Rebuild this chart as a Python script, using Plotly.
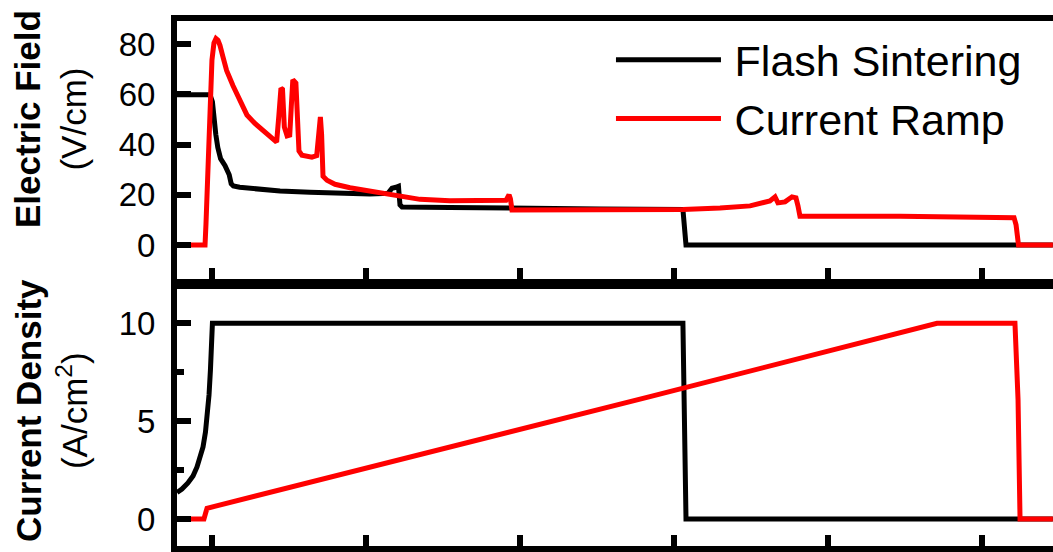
import plotly.graph_objects as go

# ---- data: time (s), electric field (V/cm), current density (A/cm^2) ----
flash_t_field = [-22.7, -1.3, 0.3, 1.4, 2.5, 3.8, 5.6, 8.5, 11.2, 12.5, 13.9, 18.0,
                 25.0, 35.0, 44.2, 63.6, 83.1, 102.6, 114.3, 116.9, 119.5, 121.1,
                 122.1, 123.4, 154.5, 193.5, 252.0, 305.8, 306.5, 307.8, 546.0]
flash_field = [59.8, 59.8, 57.0, 49.5, 44.0, 38.8, 34.4, 31.6, 28.0, 24.4, 23.5, 23.0,
               22.6, 22.0, 21.5, 21.0, 20.5, 20.3, 20.6, 22.6, 23.0, 23.4,
               16.0, 15.2, 15.0, 14.6, 14.4, 14.2, 10.0, 0.0, 0.0]

ramp_t_field = [-22.7, -4.5, -3.9, -2.6, -1.3, 0.0, 1.3, 2.6, 3.9, 5.2, 7.1, 9.5,
                13.6, 18.2, 22.7, 27.9, 32.5, 37.7, 40.5, 42.0, 43.5, 44.8, 45.8,
                47.0, 48.8, 50.5, 51.5, 52.5, 54.5, 55.3, 56.5, 58.4, 64.9, 68.0,
                69.2, 70.4, 71.2, 72.1, 74.7, 79.9, 89.6, 105.8, 120.1, 135.1,
                154.5, 174.0, 190.9, 192.9, 193.8, 194.8, 230.5, 264.9, 305.8,
                329.9, 349.4, 362.3, 365.6, 367.5, 372.1, 376.6, 379.2, 380.5,
                381.8, 446.8, 500.6, 511.7, 520.8, 522.1, 523.7, 546.0]
ramp_field = [0.0, 0.0, 8.1, 29.9, 57.8, 73.7, 80.5, 82.2, 81.5, 79.5, 75.0, 69.5,
              63.5, 57.0, 51.8, 48.4, 45.8, 43.2, 41.5, 41.0, 52.0, 62.5, 62.0,
              47.0, 43.5, 43.8, 55.0, 65.8, 64.5, 48.0, 37.5, 35.8, 35.0, 35.6,
              44.0, 51.0, 44.0, 27.4, 25.8, 24.2, 22.8, 21.2, 19.4, 18.2,
              17.6, 17.6, 17.8, 20.0, 18.4, 14.0, 14.0, 14.0, 14.2,
              14.8, 15.6, 17.6, 19.2, 16.8, 17.2, 19.2, 18.8, 15.6,
              11.5, 11.5, 11.4, 11.1, 10.9, 8.1, 0.0, 0.0]

flash_t_current = [-22.7, -19.5, -15.6, -12.3, -9.7, -7.8, -5.8, -4.2, -2.9, -1.9,
                   -1.0, -0.3, 0.3, 305.8, 306.5, 307.8, 546.0]
flash_current = [1.35, 1.53, 1.84, 2.20, 2.66, 3.10, 3.68, 4.45, 5.37, 6.34,
                 7.60, 8.90, 10.0, 10.0, 5.0, 0.0, 0.0]

ramp_t_current = [-22.7, -5.2, -4.2, -3.2, 284.4, 470.8, 521.4, 523.4, 524.7, 546.0]
ramp_current = [0.0, 0.0, 0.28, 0.55, 6.25, 10.0, 10.0, 6.1, 0.0, 0.0]

series_names = ["\u2009Flash Sintering", "\u2009Current Ramp"]
series_colors = ["#000000", "#ff0000"]

field_title = "<b>Electric Field</b><br>(V/cm)"
current_title = "<b>Current Density</b><br>(A/cm<sup>2</sup>)"

FONT = "Liberation Sans, Arial, sans-serif"
LW = 5

fig = go.Figure()

# upper panel: electric field
fig.add_trace(go.Scatter(x=flash_t_field, y=flash_field, mode="lines",
                         name=series_names[0], legendgroup="fs",
                         line=dict(color=series_colors[0], width=LW),
                         xaxis="x", yaxis="y"))
fig.add_trace(go.Scatter(x=ramp_t_field, y=ramp_field, mode="lines",
                         name=series_names[1], legendgroup="cr",
                         line=dict(color=series_colors[1], width=LW),
                         xaxis="x", yaxis="y"))

# lower panel: current density
fig.add_trace(go.Scatter(x=flash_t_current, y=flash_current, mode="lines",
                         name=series_names[0], legendgroup="fs", showlegend=False,
                         line=dict(color=series_colors[0], width=LW),
                         xaxis="x2", yaxis="y2"))
fig.add_trace(go.Scatter(x=ramp_t_current, y=ramp_current, mode="lines",
                         name=series_names[1], legendgroup="cr", showlegend=False,
                         line=dict(color=series_colors[1], width=LW),
                         xaxis="x2", yaxis="y2"))

AX_W = 6
x_common = dict(range=[-22.7, 546.1], showline=True, linewidth=AX_W, linecolor="black",
                mirror=True, ticks="inside", ticklen=11, tickwidth=AX_W, tickcolor="black",
                tick0=0, dtick=100, showticklabels=False, showgrid=False, zeroline=False)
y_common = dict(showline=True, linewidth=AX_W, linecolor="black", mirror=False,
                ticks="inside", ticklen=14, tickwidth=AX_W, tickcolor="black",
                showgrid=False, zeroline=False, ticklabelstandoff=9,
                tickfont=dict(family=FONT, size=33, color="black"))

fig.update_layout(
    width=1053, height=552,
    margin=dict(l=177, r=0, t=21, b=6),
    paper_bgcolor="white", plot_bgcolor="white",
    xaxis=dict(domain=[0, 1], anchor="y", **x_common),
    xaxis2=dict(domain=[0, 1], anchor="y2", matches="x", **x_common),
    yaxis=dict(domain=[0.5086, 1.0], anchor="x", range=[-13.5, 89.2],
               tick0=0, dtick=20, **y_common),
    yaxis2=dict(domain=[0.0, 0.4895], anchor="x2", range=[-1.38, 11.75],
                tick0=0, dtick=5,
                minor=dict(ticks="inside", ticklen=7, tickwidth=AX_W,
                           tickcolor="black", dtick=2.5, tick0=0),
                **y_common),
    legend=dict(x=0.4954, y=0.992, xanchor="left", yanchor="top",
                bgcolor="rgba(0,0,0,0)", borderwidth=0, itemwidth=105,
                tracegroupgap=0,
                font=dict(family=FONT, size=43, color="black")),
    font=dict(family=FONT, color="black"),
    annotations=[
        dict(text=field_title, textangle=-90, showarrow=False,
             xref="paper", yref="paper", x=(51 - 177) / 876, y=(546 - 119) / 525,
             xanchor="center", yanchor="middle",
             font=dict(family=FONT, size=35, color="black")),
        dict(text=current_title, textangle=-90, showarrow=False,
             xref="paper", yref="paper", x=(51 - 177) / 876, y=(546 - 411) / 525,
             xanchor="center", yanchor="middle",
             font=dict(family=FONT, size=35, color="black")),
    ],
)

fig.write_html("out.html")
